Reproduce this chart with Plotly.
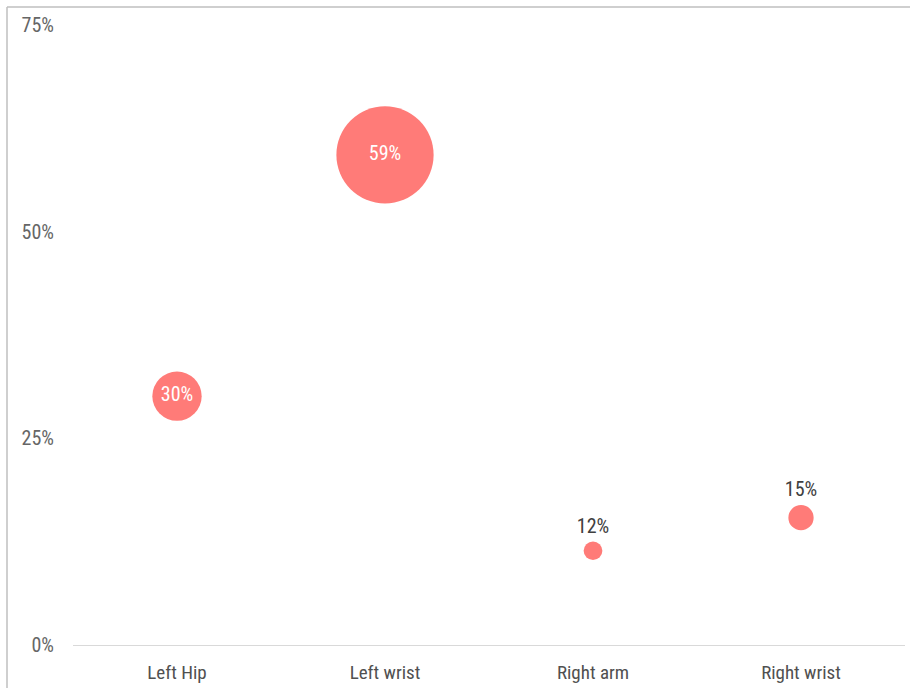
import plotly.graph_objects as go

categories = ["Left Hip", "Left wrist", "Right arm", "Right wrist"]
values = [30.1, 59.3, 11.4, 15.4]
labels = ["30%", "59%", "12%", "15%"]
label_pos = ["middle center", "middle center", "top center", "top center"]
label_colors = ["white", "white", "#404040", "#404040"]
y_ticks = [0, 25, 50, 75]
y_tick_text = ["0%", "25%", "50%", "75%"]

FONT = "Roboto Condensed, Liberation Sans Narrow, sans-serif"

fig = go.Figure()
fig.add_trace(go.Scatter(
    x=categories,
    y=values,
    mode="markers+text",
    text=labels,
    textposition=label_pos,
    textfont=dict(family=FONT, size=20, color=label_colors),
    marker=dict(size=values, sizemode="diameter", sizeref=0.61,
                color="#FF7B78", line=dict(width=0), opacity=1),
    hoverinfo="skip",
    cliponaxis=False,
))

W, H = 910, 688
ml, mr, mt, mb = 73, 5, 25, 43
pw, ph = W - ml - mr, H - mt - mb

def px_x(x):
    return (x - ml) / pw

def px_y(y):
    return (H - mb - y) / ph

fig.update_layout(
    width=W, height=H,
    margin=dict(l=ml, r=mr, t=mt, b=mb),
    paper_bgcolor="white", plot_bgcolor="white",
    showlegend=False,
    font=dict(family=FONT, size=18, color="#555555"),
    xaxis=dict(range=[-0.5, 3.5], showgrid=False, zeroline=False,
               showline=True, linecolor="#d9d9d9", linewidth=1,
               ticks="", tickfont=dict(size=19, color="#505050"),
               ticklabelstandoff=10),
    yaxis=dict(range=[0, 75], tickvals=y_ticks, ticktext=y_tick_text,
               showgrid=False, zeroline=False, showline=False,
               ticks="", tickfont=dict(size=20, color="#666666"),
               ticklabelstandoff=18),
    shapes=[
        dict(type="line", xref="paper", yref="paper",
             x0=px_x(7), x1=px_x(912), y0=px_y(7), y1=px_y(7),
             line=dict(color="#bfbfbf", width=1.5)),
        dict(type="line", xref="paper", yref="paper",
             x0=px_x(7), x1=px_x(7), y0=px_y(7), y1=px_y(690),
             line=dict(color="#bfbfbf", width=1.5)),
    ],
)

fig.write_html("out.html", config={"displayModeBar": False},
               post_script="document.body.style.margin='0';document.body.style.padding='0';")
